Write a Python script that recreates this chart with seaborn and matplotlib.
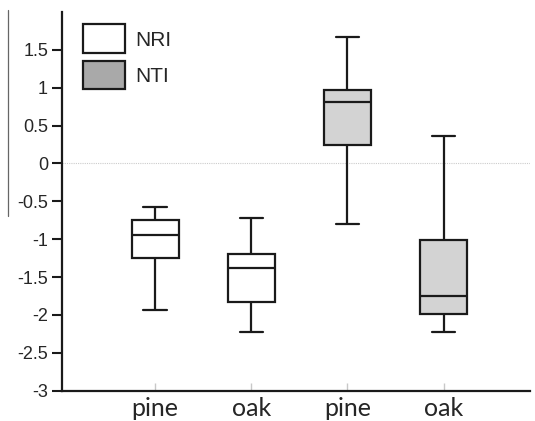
import numpy as np
import pandas as pd
import matplotlib
matplotlib.use("Agg")
import matplotlib.pyplot as plt
from matplotlib.patches import Patch
from matplotlib.lines import Line2D
import seaborn as sns

# five-number summaries (min, q1, median, q3, max)
groups = ["NRI pine", "NRI oak", "NTI pine", "NTI oak"]
index_of_group = ["NRI", "NRI", "NTI", "NTI"]
tick_labels = ["pine", "oak", "pine", "oak"]
nri_pine = [-1.93, -1.25, -0.94, -0.745, -0.575]
nri_oak = [-2.22, -1.83, -1.38, -1.19, -0.72]
nti_pine = [-0.80, 0.25, 0.81, 0.975, 1.67]
nti_oak = [-2.22, -1.99, -1.75, -1.01, 0.365]
yticks = [-3, -2.5, -2, -1.5, -1, -0.5, 0, 0.5, 1, 1.5]

rows = []
for g, idx, vals in zip(groups, index_of_group, [nri_pine, nri_oak, nti_pine, nti_oak]):
    for v in vals:
        rows.append({"group": g, "index": idx, "value": v})
df = pd.DataFrame(rows)

sns.set_style("white")
plt.rcParams["font.family"] = ["Liberation Sans", "DejaVu Sans"]

fig = plt.figure(figsize=(5.35, 4.21), dpi=100)
ax = fig.add_axes([62 / 535, 30.3 / 421, 468 / 535, 378.7 / 421])

# dotted zero line behind the boxes
ax.axhline(0, color="#cccccc", lw=0.8, ls=(0, (1, 1)), zorder=0)

sns.boxplot(
    data=df, x="group", y="value", hue="index", order=groups,
    palette={"NRI": "white", "NTI": "#d3d3d3"}, dodge=False,
    width=0.49, whis=(0, 100), linewidth=1.6, linecolor="#1a1a1a",
    legend=False, ax=ax,
)

ax.set_xlim(-0.97, 3.9)
ax.set_ylim(-3, 2)
ax.set_yticks(yticks)
ax.set_yticklabels([f"{t:g}" for t in yticks], fontsize=13)
ax.set_xticks(range(4))
ax.set_xticklabels(tick_labels, fontsize=18, family=["Lato", "DejaVu Sans"])
ax.set_xlabel("")
ax.set_ylabel("")

ax.tick_params(axis="y", direction="out", length=7, width=1.5, color="#1a1a1a", pad=3, left=True)
ax.tick_params(axis="x", direction="in", length=6, width=1, color="#c8c8c8", pad=4.5, bottom=True)

for s in ["top", "right"]:
    ax.spines[s].set_visible(False)
for s in ["left", "bottom"]:
    ax.spines[s].set_color("#1a1a1a")
    ax.spines[s].set_linewidth(1.6)

handles = [
    Patch(facecolor="white", edgecolor="#1a1a1a", linewidth=1.6, label="NRI"),
    Patch(facecolor="#a9a9a9", edgecolor="#1a1a1a", linewidth=1.6, label="NTI"),
]
ax.legend(handles=handles, loc="upper left", bbox_to_anchor=(0.045, 0.967),
          frameon=False, fontsize=15, borderpad=0, borderaxespad=0,
          handlelength=2.0, handleheight=1.75, handletextpad=0.5, labelspacing=0.35)

# stray vertical rule at the far left of the original image
fig.add_artist(Line2D([8 / 535, 8 / 535], [1 - 10 / 421, 1 - 216 / 421],
                      color="#666666", lw=0.9))

fig.savefig("out.png", dpi=100)
